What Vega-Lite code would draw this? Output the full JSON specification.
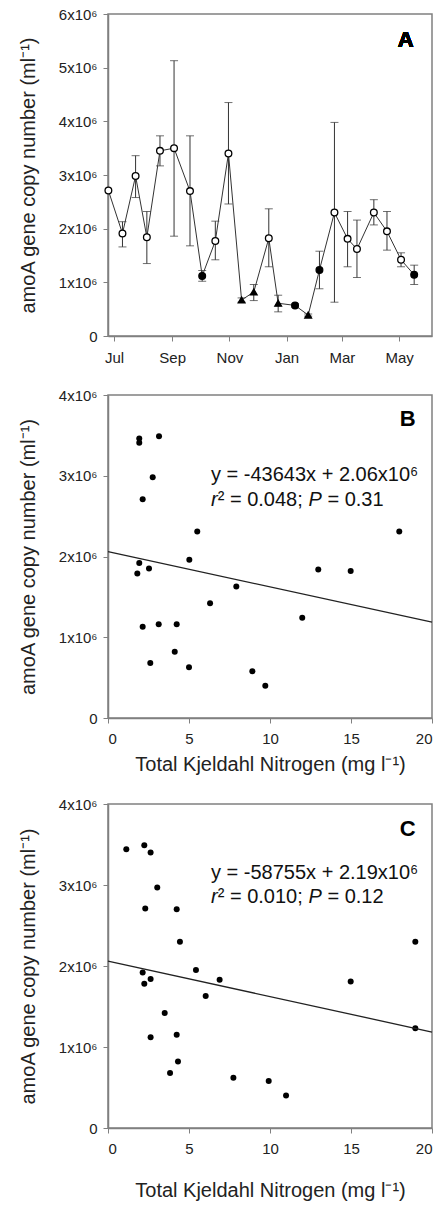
{
  "$schema": "https://vega.github.io/schema/vega-lite/v6.json",
  "background": "white",
  "padding": {"left": 17, "top": 6, "right": 5, "bottom": 5},
  "config": {
    "font": "Liberation Sans",
    "view": {"stroke": "#808080", "strokeWidth": 1.5},
    "axis": {
      "grid": false,
      "domainColor": "#808080",
      "domainWidth": 1.5,
      "tickColor": "#808080",
      "tickSize": 5,
      "labelFont": "Liberation Sans",
      "labelFontSize": 15,
      "labelColor": "#222222",
      "titleFont": "Liberation Sans",
      "titleFontSize": 20,
      "titleFontWeight": "normal",
      "titleColor": "#222222"
    }
  },
  "spacing": 21,
  "vconcat": [
    {
      "width": 324,
      "height": 322,
      "data": {"values": [
        {"date": "2005-06-25", "v": 2710000, "type": "open"},
        {"date": "2005-07-10", "v": 1910000, "lo": 1660000, "hi": 2130000, "type": "open"},
        {"date": "2005-07-24", "v": 2980000, "lo": 2580000, "hi": 3360000, "type": "open"},
        {"date": "2005-08-05", "v": 1840000, "lo": 1350000, "hi": 2320000, "type": "open"},
        {"date": "2005-08-19", "v": 3450000, "lo": 3170000, "hi": 3730000, "type": "open"},
        {"date": "2005-09-03", "v": 3500000, "lo": 1860000, "hi": 5130000, "type": "open"},
        {"date": "2005-09-20", "v": 2700000, "lo": 1680000, "hi": 3730000, "type": "open"},
        {"date": "2005-10-03", "v": 1120000, "lo": 1020000, "hi": 1220000, "type": "filled"},
        {"date": "2005-10-17", "v": 1770000, "lo": 1420000, "hi": 2140000, "type": "open"},
        {"date": "2005-10-31", "v": 3400000, "lo": 2460000, "hi": 4350000, "type": "open"},
        {"date": "2005-11-14", "v": 670000, "lo": 630000, "hi": 710000, "type": "triangle"},
        {"date": "2005-11-27", "v": 820000, "lo": 660000, "hi": 960000, "type": "triangle"},
        {"date": "2005-12-13", "v": 1820000, "lo": 1290000, "hi": 2370000, "type": "open"},
        {"date": "2005-12-23", "v": 610000, "lo": 450000, "hi": 760000, "type": "triangle"},
        {"date": "2006-01-10", "v": 570000, "lo": 540000, "hi": 600000, "type": "filled"},
        {"date": "2006-01-24", "v": 390000, "lo": 370000, "hi": 410000, "type": "triangle"},
        {"date": "2006-02-05", "v": 1230000, "lo": 880000, "hi": 1580000, "type": "filled"},
        {"date": "2006-02-21", "v": 2300000, "lo": 630000, "hi": 3980000, "type": "open"},
        {"date": "2006-03-07", "v": 1810000, "lo": 1290000, "hi": 2320000, "type": "open"},
        {"date": "2006-03-17", "v": 1620000, "lo": 1090000, "hi": 2160000, "type": "open"},
        {"date": "2006-04-04", "v": 2300000, "lo": 2070000, "hi": 2540000, "type": "open"},
        {"date": "2006-04-18", "v": 1950000, "lo": 1600000, "hi": 2320000, "type": "open"},
        {"date": "2006-05-03", "v": 1420000, "lo": 1290000, "hi": 1550000, "type": "open"},
        {"date": "2006-05-17", "v": 1140000, "lo": 960000, "hi": 1320000, "type": "filled"}
      ]},
      "encoding": {
        "x": {
          "field": "date", "type": "temporal",
          "scale": {"type": "utc", "domain": [
            {"year": 2005, "month": 6, "date": 24, "hours": 14, "utc": true},
            {"year": 2006, "month": 6, "date": 5, "utc": true}
          ]},
          "axis": {
            "title": null,
            "values": [
              {"year": 2005, "month": 7, "date": 1, "utc": true},
              {"year": 2005, "month": 9, "date": 1, "utc": true},
              {"year": 2005, "month": 11, "date": 1, "utc": true},
              {"year": 2006, "month": 1, "date": 1, "utc": true},
              {"year": 2006, "month": 3, "date": 1, "utc": true},
              {"year": 2006, "month": 5, "date": 1, "utc": true}
            ],
            "labelExpr": "utcFormat(datum.value, '%b')",
            "labelPadding": 9
          }
        }
      },
      "layer": [
        {
          "mark": {"type": "line", "color": "#333333", "strokeWidth": 1},
          "encoding": {
            "y": {"field": "v", "type": "quantitative",
              "scale": {"domain": [0, 6000000]},
              "axis": {
                "title": "amoA gene copy number (ml⁻¹)",
                "values": [0, 1000000, 2000000, 3000000, 4000000, 5000000, 6000000],
                "labelExpr": "datum.value == 0 ? '0' : format(datum.value / 1000000, 'd') + 'x10⁶'",
                "labelPadding": 6,
                "titlePadding": 20
              }
            }
          }
        },
        {
          "mark": {"type": "rule", "color": "#333333", "strokeWidth": 1},
          "encoding": {
            "y": {"field": "lo", "type": "quantitative"},
            "y2": {"field": "hi"}
          }
        },
        {
          "mark": {"type": "tick", "orient": "horizontal", "size": 8, "thickness": 1, "color": "#333333"},
          "encoding": {"y": {"field": "lo", "type": "quantitative"}}
        },
        {
          "mark": {"type": "tick", "orient": "horizontal", "size": 8, "thickness": 1, "color": "#333333"},
          "encoding": {"y": {"field": "hi", "type": "quantitative"}}
        },
        {
          "mark": {"type": "point", "filled": true, "stroke": "black", "strokeWidth": 1.3, "size": 45, "opacity": 1},
          "encoding": {
            "y": {"field": "v", "type": "quantitative"},
            "shape": {"field": "type", "type": "nominal", "legend": null,
              "scale": {"domain": ["open", "filled", "triangle"], "range": ["circle", "circle", "triangle-up"]}},
            "fill": {"field": "type", "type": "nominal", "legend": null,
              "scale": {"domain": ["open", "filled", "triangle"], "range": ["white", "black", "black"]}}
          }
        },
        {
          "mark": {"type": "text", "text": "A", "fontSize": 22, "fontWeight": "bold", "align": "center", "baseline": "alphabetic", "color": "black"},
          "encoding": {
            "x": {"datum": {"year": 2006, "month": 5, "date": 8, "utc": true}, "type": "temporal"},
            "y": {"datum": 5380000, "type": "quantitative"}
          }
        }
      ]
    },
    {
      "spacing": 21,
      "vconcat": [
        {
          "width": 324,
          "height": 323,
          "encoding": {
            "x": {"type": "quantitative", "scale": {"domain": [0, 20]},
              "axis": {"title": "Total Kjeldahl Nitrogen (mg l⁻¹)", "values": [0, 5, 10, 15, 20], "labelPadding": 8, "titlePadding": 8}},
            "y": {"type": "quantitative", "scale": {"domain": [0, 4000000]},
              "axis": {
                "title": "amoA gene copy number (ml⁻¹)",
                "values": [0, 1000000, 2000000, 3000000, 4000000],
                "labelExpr": "datum.value == 0 ? '0' : format(datum.value / 1000000, 'd') + 'x10⁶'",
                "labelPadding": 6,
                "titlePadding": 20
              }
            }
          },
          "layer": [
            {
              "data": {"values": [
                {"tkn": 1.93, "copies": 3460000},
                {"tkn": 1.93, "copies": 3410000},
                {"tkn": 3.15, "copies": 3490000},
                {"tkn": 2.76, "copies": 2980000},
                {"tkn": 2.14, "copies": 2710000},
                {"tkn": 5.51, "copies": 2310000},
                {"tkn": 5.02, "copies": 1960000},
                {"tkn": 1.93, "copies": 1920000},
                {"tkn": 2.53, "copies": 1850000},
                {"tkn": 1.81, "copies": 1790000},
                {"tkn": 12.98, "copies": 1840000},
                {"tkn": 14.98, "copies": 1820000},
                {"tkn": 17.98, "copies": 2310000},
                {"tkn": 7.92, "copies": 1630000},
                {"tkn": 6.3, "copies": 1420000},
                {"tkn": 11.99, "copies": 1240000},
                {"tkn": 2.14, "copies": 1130000},
                {"tkn": 3.13, "copies": 1160000},
                {"tkn": 4.24, "copies": 1160000},
                {"tkn": 4.12, "copies": 820000},
                {"tkn": 2.61, "copies": 680000},
                {"tkn": 5.0, "copies": 630000},
                {"tkn": 8.91, "copies": 580000},
                {"tkn": 9.71, "copies": 400000}
              ]},
              "mark": {"type": "circle", "color": "black", "size": 36, "opacity": 1},
              "encoding": {"x": {"field": "tkn"}, "y": {"field": "copies"}}
            },
            {
              "data": {"values": [{"tkn": 0, "fit": 2060000}, {"tkn": 20, "fit": 1187000}]},
              "mark": {"type": "line", "color": "#222222", "strokeWidth": 1.3},
              "encoding": {"x": {"field": "tkn"}, "y": {"field": "fit"}}
            },
            {
              "data": {"values": [{}]},
              "mark": {"type": "text", "text": "y = -43643x + 2.06x10⁶", "fontSize": 20, "align": "left", "baseline": "alphabetic", "color": "#111111"},
              "encoding": {"x": {"datum": 6.36}, "y": {"datum": 2940000}}
            },
            {
              "data": {"values": [{}]},
              "mark": {"type": "text", "text": "r", "fontStyle": "italic", "fontSize": 20, "align": "left", "baseline": "alphabetic", "color": "#111111"},
              "encoding": {"x": {"datum": 6.36}, "y": {"datum": 2620000}}
            },
            {
              "data": {"values": [{}]},
              "mark": {"type": "text", "text": "² = 0.048;", "dx": 6.7, "fontSize": 20, "align": "left", "baseline": "alphabetic", "color": "#111111"},
              "encoding": {"x": {"datum": 6.36}, "y": {"datum": 2620000}}
            },
            {
              "data": {"values": [{}]},
              "mark": {"type": "text", "text": "P", "dx": 97.5, "fontStyle": "italic", "fontSize": 20, "align": "left", "baseline": "alphabetic", "color": "#111111"},
              "encoding": {"x": {"datum": 6.36}, "y": {"datum": 2620000}}
            },
            {
              "data": {"values": [{}]},
              "mark": {"type": "text", "text": "= 0.31", "dx": 116.4, "fontSize": 20, "align": "left", "baseline": "alphabetic", "color": "#111111"},
              "encoding": {"x": {"datum": 6.36}, "y": {"datum": 2620000}}
            },
            {
              "data": {"values": [{}]},
              "mark": {"type": "text", "text": "B", "fontSize": 22, "fontWeight": "bold", "align": "center", "baseline": "alphabetic", "color": "black"},
              "encoding": {"x": {"datum": 18.5}, "y": {"datum": 3620000}}
            }
          ]
        },
        {
          "width": 324,
          "height": 324,
          "encoding": {
            "x": {"type": "quantitative", "scale": {"domain": [0, 20]},
              "axis": {"title": "Total Kjeldahl Nitrogen (mg l⁻¹)", "values": [0, 5, 10, 15, 20], "labelPadding": 8, "titlePadding": 24}},
            "y": {"type": "quantitative", "scale": {"domain": [0, 4000000]},
              "axis": {
                "title": "amoA gene copy number (ml⁻¹)",
                "values": [0, 1000000, 2000000, 3000000, 4000000],
                "labelExpr": "datum.value == 0 ? '0' : format(datum.value / 1000000, 'd') + 'x10⁶'",
                "labelPadding": 6,
                "titlePadding": 20
              }
            }
          },
          "layer": [
            {
              "data": {"values": [
                {"tkn": 1.13, "copies": 3440000},
                {"tkn": 2.24, "copies": 3490000},
                {"tkn": 2.63, "copies": 3400000},
                {"tkn": 3.04, "copies": 2970000},
                {"tkn": 2.3, "copies": 2710000},
                {"tkn": 4.24, "copies": 2700000},
                {"tkn": 4.44, "copies": 2300000},
                {"tkn": 5.43, "copies": 1950000},
                {"tkn": 2.14, "copies": 1920000},
                {"tkn": 2.63, "copies": 1840000},
                {"tkn": 2.24, "copies": 1780000},
                {"tkn": 6.89, "copies": 1830000},
                {"tkn": 14.98, "copies": 1810000},
                {"tkn": 18.97, "copies": 2300000},
                {"tkn": 6.03, "copies": 1630000},
                {"tkn": 3.5, "copies": 1420000},
                {"tkn": 18.97, "copies": 1230000},
                {"tkn": 2.63, "copies": 1120000},
                {"tkn": 4.24, "copies": 1150000},
                {"tkn": 4.32, "copies": 820000},
                {"tkn": 3.83, "copies": 680000},
                {"tkn": 7.74, "copies": 620000},
                {"tkn": 9.92, "copies": 580000},
                {"tkn": 10.99, "copies": 400000}
              ]},
              "mark": {"type": "circle", "color": "black", "size": 36, "opacity": 1},
              "encoding": {"x": {"field": "tkn"}, "y": {"field": "copies"}}
            },
            {
              "data": {"values": [{"tkn": 0, "fit": 2060000}, {"tkn": 20, "fit": 1185000}]},
              "mark": {"type": "line", "color": "#222222", "strokeWidth": 1.3},
              "encoding": {"x": {"field": "tkn"}, "y": {"field": "fit"}}
            },
            {
              "data": {"values": [{}]},
              "mark": {"type": "text", "text": "y = -58755x + 2.19x10⁶", "fontSize": 20, "align": "left", "baseline": "alphabetic", "color": "#111111"},
              "encoding": {"x": {"datum": 6.36}, "y": {"datum": 3080000}}
            },
            {
              "data": {"values": [{}]},
              "mark": {"type": "text", "text": "r", "fontStyle": "italic", "fontSize": 20, "align": "left", "baseline": "alphabetic", "color": "#111111"},
              "encoding": {"x": {"datum": 6.36}, "y": {"datum": 2780000}}
            },
            {
              "data": {"values": [{}]},
              "mark": {"type": "text", "text": "² = 0.010;", "dx": 6.7, "fontSize": 20, "align": "left", "baseline": "alphabetic", "color": "#111111"},
              "encoding": {"x": {"datum": 6.36}, "y": {"datum": 2780000}}
            },
            {
              "data": {"values": [{}]},
              "mark": {"type": "text", "text": "P", "dx": 97.5, "fontStyle": "italic", "fontSize": 20, "align": "left", "baseline": "alphabetic", "color": "#111111"},
              "encoding": {"x": {"datum": 6.36}, "y": {"datum": 2780000}}
            },
            {
              "data": {"values": [{}]},
              "mark": {"type": "text", "text": "= 0.12", "dx": 116.4, "fontSize": 20, "align": "left", "baseline": "alphabetic", "color": "#111111"},
              "encoding": {"x": {"datum": 6.36}, "y": {"datum": 2780000}}
            },
            {
              "data": {"values": [{}]},
              "mark": {"type": "text", "text": "C", "fontSize": 22, "fontWeight": "bold", "align": "center", "baseline": "alphabetic", "color": "black"},
              "encoding": {"x": {"datum": 18.5}, "y": {"datum": 3600000}}
            }
          ]
        }
      ]
    }
  ]
}
